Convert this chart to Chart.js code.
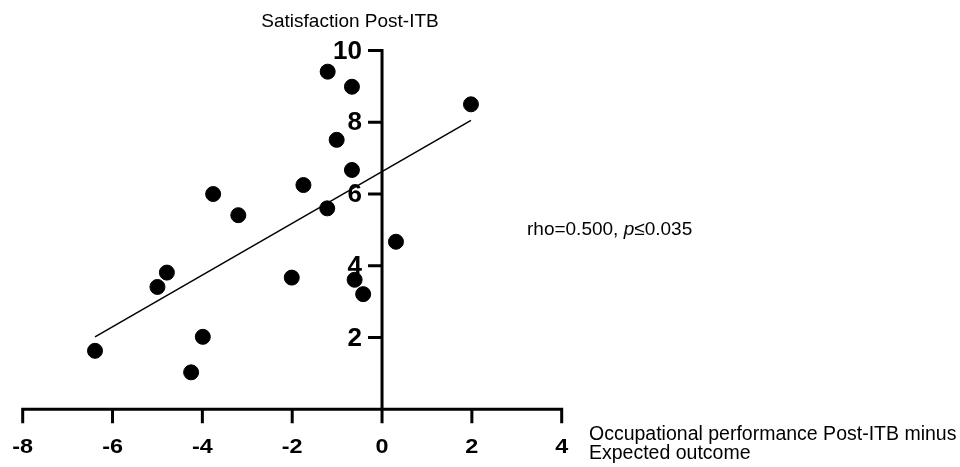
<!DOCTYPE html>
<html>
<head>
<meta charset="UTF-8">
<style>
  html, body { margin: 0; padding: 0; background: #fff; }
  #wrap { width: 960px; height: 467px; }
</style>
</head>
<body>
<div id="wrap">
  <canvas id="myChart"></canvas>
</div>

<script src="https://cdn.jsdelivr.net/npm/chart.js@4.4.0/dist/chart.umd.min.js"></script>

<script>
  // values
  const perfDiff = [-1.21, -0.67, 1.98, -1.01, -0.67, -1.75, -3.76, -3.20, -1.22, 0.31, -4.79, -5.00, -2.01, -0.61, -0.42, -3.99, -6.39, -4.25];
  const satisfaction = [9.41, 8.99, 8.50, 7.51, 6.67, 6.25, 6.00, 5.41, 5.60, 4.67, 3.81, 3.41, 3.67, 3.61, 3.21, 2.02, 1.63, 1.03];

  // regression line end points
  const fitX = [-6.39, 1.98];
  const fitY = [2.02, 8.05];

  const xTicks = [-8, -6, -4, -2, 0, 2, 4];
  const yTicks = [2, 4, 6, 8, 10];

  const chartTitle = 'Satisfaction Post-ITB';
  const xTitle = ['Occupational performance Post-ITB minus', 'Expected outcome'];
  const statParts = [['rho=0.500, ', false], ['p', true], ['\u22640.035', false]];

  const FONT = '"Liberation Sans", Arial, sans-serif';

  const axesPlugin = {
    id: 'crossAxes',
    afterDatasetsDraw(chart) {
      const ctx = chart.ctx;
      const xs = chart.scales.x;
      const ys = chart.scales.y;
      const x0 = xs.getPixelForValue(0);
      const y0 = ys.getPixelForValue(0);
      const tickLen = 14;

      ctx.save();
      ctx.strokeStyle = '#000';
      ctx.fillStyle = '#000';
      ctx.lineWidth = 3;
      ctx.lineCap = 'butt';

      // x axis
      ctx.beginPath();
      ctx.moveTo(xs.getPixelForValue(xTicks[0]) - 1.5, y0);
      ctx.lineTo(xs.getPixelForValue(xTicks[xTicks.length - 1]) + 1.5, y0);
      xTicks.forEach(v => {
        const px = xs.getPixelForValue(v);
        ctx.moveTo(px, y0);
        ctx.lineTo(px, y0 + tickLen);
      });
      ctx.stroke();

      // y axis
      ctx.beginPath();
      ctx.moveTo(x0, y0);
      ctx.lineTo(x0, ys.getPixelForValue(yTicks[yTicks.length - 1]) - 1.5);
      yTicks.forEach(v => {
        const py = ys.getPixelForValue(v);
        ctx.moveTo(x0, py);
        ctx.lineTo(x0 - tickLen, py);
      });
      ctx.stroke();

      // tick labels (x labels a bit wide in the original)
      ctx.font = 'bold 20px ' + FONT;
      ctx.textAlign = 'center';
      ctx.textBaseline = 'middle';
      xTicks.forEach(v => {
        ctx.save();
        ctx.translate(xs.getPixelForValue(v), y0 + 38);
        ctx.scale(1.17, 1);
        ctx.fillText(String(v), 0, 0);
        ctx.restore();
      });
      ctx.font = 'bold 26px ' + FONT;
      ctx.textAlign = 'right';
      yTicks.forEach(v => {
        ctx.fillText(String(v), x0 - 20, ys.getPixelForValue(v) + 1);
      });

      // titles
      ctx.font = '19px ' + FONT;
      ctx.textAlign = 'center';
      ctx.fillText(chartTitle, 350, 22);

      ctx.font = '19.5px ' + FONT;
      ctx.textAlign = 'left';
      ctx.fillText(xTitle[0], 589, 435);
      ctx.fillText(xTitle[1], 589, 454);

      // correlation text
      let tx = 527;
      statParts.forEach(([txt, italic]) => {
        ctx.font = (italic ? 'italic ' : '') + '19px ' + FONT;
        ctx.fillText(txt, tx, 230);
        tx += ctx.measureText(txt).width;
      });
      ctx.restore();
    }
  };

  const ctx = document.getElementById('myChart');

  const data = {
    datasets: [
      {
        label: 'Patients',
        data: perfDiff.map((x, i) => ({x: x, y: satisfaction[i]})),
        backgroundColor: '#000',
        borderColor: '#000',
        pointRadius: 7.5,
        pointHoverRadius: 7.5,
        showLine: false,
      },
      {
        label: 'Fit',
        data: fitX.map((x, i) => ({x: x, y: fitY[i]})),
        borderColor: '#000',
        borderWidth: 1.5,
        pointRadius: 0,
        showLine: true,
        fill: false,
      }
    ]
  };

  const config = {
    type: 'scatter',
    data: data,
    options: {
      responsive: true,
      maintainAspectRatio: false,
      animation: false,
      clip: false,
      layout: {
        padding: {left: 22.7, right: 398.3, top: 50.5, bottom: 57.7}
      },
      plugins: {
        legend: {display: false},
        title: {display: false},
        tooltip: {enabled: false},
      },
      scales: {
        x: {type: 'linear', min: -8, max: 4, display: false},
        y: {type: 'linear', min: 0, max: 10, display: false},
      }
    },
    plugins: [axesPlugin]
  };

  new Chart(ctx, config);
</script>
</body>
</html>
